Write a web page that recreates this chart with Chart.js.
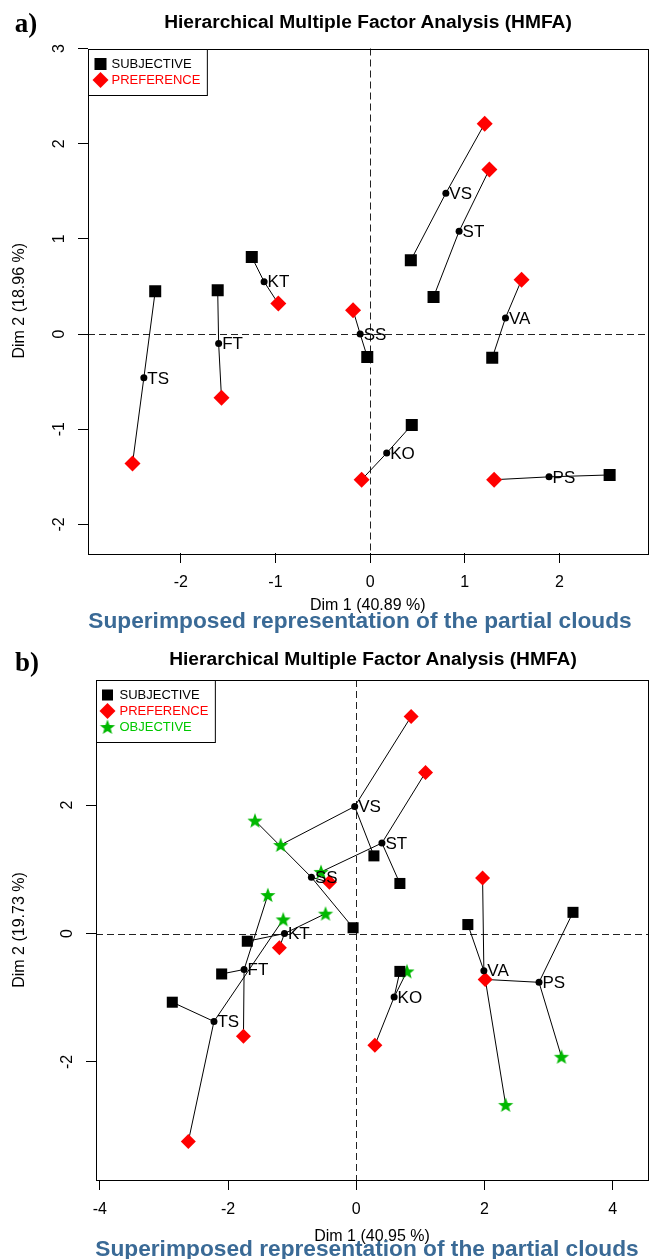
<!DOCTYPE html>
<html>
<head>
<meta charset="utf-8">
<title>HMFA partial clouds</title>
<script src="https://cdn.jsdelivr.net/npm/chart.js@4.4.1/dist/chart.umd.min.js"></script>
<style>
  html, body { margin: 0; padding: 0; background: #fff; }
  body { position: relative; width: 656px; height: 1259px; overflow: hidden; font-family: "Liberation Sans", Arial, sans-serif; }
  .panel { position: absolute; left: 0; width: 656px; }
  .txt { position: absolute; transform: translate(-50%, -50%); white-space: nowrap; line-height: 1; }
  .tag { font-family: "Liberation Serif", "Times New Roman", serif; font-weight: bold; font-size: 27px; }
  .main { font-weight: bold; font-size: 19.2px; color: #000; }
  .sub { font-weight: bold; font-size: 22.7px; color: #3a6a96; }
</style>
</head>
<body>
<div class="panel" style="top:0;height:640px"><canvas id="chart-a"></canvas></div>
<div class="panel" style="top:640px;height:619px"><canvas id="chart-b"></canvas></div>

<div class="txt tag" style="left:26px;top:23px">a)</div>
<div class="txt main" style="left:368px;top:22px">Hierarchical Multiple Factor Analysis (HMFA)</div>
<div class="txt sub" style="left:360px;top:620px">Superimposed representation of the partial clouds</div>

<div class="txt tag" style="left:27px;top:662px">b)</div>
<div class="txt main" style="left:373px;top:659px">Hierarchical Multiple Factor Analysis (HMFA)</div>
<div class="txt sub" style="left:367px;top:1248px">Superimposed representation of the partial clouds</div>

<script>
'use strict';

var products = ['TS', 'FT', 'KT', 'SS', 'VS', 'ST', 'VA', 'KO', 'PS'];

// panel a) : two groups
var subjAx = [-2.27, -1.61, -1.25, -0.03, 0.43, 0.67, 1.29, 0.44, 2.53];
var subjAy = [0.45, 0.46, 0.81, -0.24, 0.775, 0.39, -0.25, -0.955, -1.48];
var prefAx = [-2.51, -1.57, -0.97, -0.18, 1.21, 1.26, 1.60, -0.09, 1.31];
var prefAy = [-1.36, -0.67, 0.32, 0.25, 2.21, 1.73, 0.57, -1.53, -1.53];
var centAx = [-2.39, -1.60, -1.12, -0.105, 0.80, 0.94, 1.43, 0.175, 1.89];
var centAy = [-0.46, -0.10, 0.55, 0.0, 1.48, 1.08, 0.17, -1.25, -1.50];
var ticksAx = [-2, -1, 0, 1, 2];
var ticksAy = [-2, -1, 0, 1, 2, 3];

// panel b) : three groups
var subjBx = [-2.87, -2.10, -1.70, -0.05, 0.275, 0.68, 1.74, 0.68, 3.38];
var subjBy = [-1.07, -0.63, -0.12, 0.09, 1.21, 0.78, 0.14, -0.59, 0.33];
var prefBx = [-2.62, -1.76, -1.20, -0.42, 0.855, 1.08, 1.97, 0.29, 2.01];
var prefBy = [-3.24, -1.60, -0.22, 0.80, 3.38, 2.51, 0.865, -1.74, -0.715];
var objBx = [-1.14, -1.38, -0.48, -1.58, -1.18, -0.55, 2.33, 0.79, 3.20];
var objBy = [0.22, 0.60, 0.31, 1.76, 1.38, 0.96, -2.67, -0.59, -1.92];
var centBx = [-2.22, -1.75, -1.12, -0.70, -0.025, 0.40, 1.99, 0.59, 2.85];
var centBy = [-1.37, -0.56, 0.0, 0.876, 1.98, 1.41, -0.58, -0.99, -0.76];
var ticksBx = [-4, -2, 0, 2, 4];
var ticksBy = [-2, 0, 2];

var FONT = '"Liberation Sans", Arial, sans-serif';
var RED = '#ff0000';
var GREEN = '#00b800';

function starImage(r, color) {
  var c = document.createElement('canvas');
  var s = Math.ceil(r * 2 + 2);
  c.width = s;
  c.height = s;
  var g = c.getContext('2d');
  g.fillStyle = color;
  g.beginPath();
  for (var k = 0; k < 10; k++) {
    var rr = k % 2 ? r * 0.42 : r;
    var ang = -Math.PI / 2 + k * Math.PI / 5;
    var px = s / 2 + rr * Math.cos(ang);
    var py = s / 2 + 0.6 + rr * Math.sin(ang);
    if (k) g.lineTo(px, py); else g.moveTo(px, py);
  }
  g.closePath();
  g.fill();
  return c;
}

function pts(xs, ys) {
  return xs.map(function (v, i) { return { x: v, y: ys[i] }; });
}

function hmfaChart(id, o) {
  var datasets = [];

  // segments centre -> partial point
  o.groups.forEach(function (g) {
    products.forEach(function (p, i) {
      datasets.push({
        data: [{ x: o.cx[i], y: o.cy[i] }, { x: g.x[i], y: g.y[i] }],
        showLine: true,
        borderColor: '#000',
        borderWidth: 1,
        pointRadius: 0,
        pointHoverRadius: 0,
        order: 10
      });
    });
  });

  o.groups.forEach(function (g) {
    datasets.push({
      label: g.label,
      data: pts(g.x, g.y),
      pointStyle: g.style,
      pointRadius: g.r,
      backgroundColor: g.color,
      borderColor: g.color,
      borderWidth: 0,
      order: 5
    });
  });

  datasets.push({
    label: 'centre',
    data: pts(o.cx, o.cy),
    pointStyle: 'circle',
    pointRadius: 3.5,
    backgroundColor: '#000',
    borderWidth: 0,
    order: 1
  });

  var decor = {
    id: 'hmfaDecor',
    beforeDatasetsDraw: function (chart) {
      var ctx = chart.ctx, a = chart.chartArea;
      var x0 = chart.scales.x.getPixelForValue(0);
      var y0 = chart.scales.y.getPixelForValue(0);
      ctx.save();
      ctx.strokeStyle = '#222';
      ctx.lineWidth = 1;
      ctx.setLineDash([7, 4]);
      ctx.beginPath();
      ctx.moveTo(Math.round(x0) + 0.5, a.top);
      ctx.lineTo(Math.round(x0) + 0.5, a.bottom);
      ctx.moveTo(a.left, Math.round(y0) + 0.5);
      ctx.lineTo(a.right, Math.round(y0) + 0.5);
      ctx.stroke();
      ctx.restore();
    },
    afterDatasetsDraw: function (chart) {
      var ctx = chart.ctx, xs = chart.scales.x, ys = chart.scales.y;
      ctx.save();
      ctx.font = '17px ' + FONT;
      ctx.fillStyle = '#000';
      ctx.textAlign = 'left';
      ctx.textBaseline = 'middle';
      products.forEach(function (p, i) {
        ctx.fillText(p, xs.getPixelForValue(o.cx[i]) + 3.5, ys.getPixelForValue(o.cy[i]) + 1);
      });
      ctx.restore();
    },
    afterDraw: function (chart) {
      var ctx = chart.ctx, a = chart.chartArea, ys = chart.scales.y;
      ctx.save();
      // box
      ctx.strokeStyle = '#000';
      ctx.lineWidth = 1;
      ctx.strokeRect(Math.round(a.left) + 0.5, Math.round(a.top) + 0.5,
        Math.round(a.right - a.left), Math.round(a.bottom - a.top));

      // y tick labels, R style (parallel to axis)
      ctx.font = '16px ' + FONT;
      ctx.fillStyle = '#000';
      ctx.textAlign = 'center';
      ctx.textBaseline = 'middle';
      o.yTicks.forEach(function (v) {
        ctx.save();
        ctx.translate(a.left - 28, ys.getPixelForValue(v));
        ctx.rotate(-Math.PI / 2);
        ctx.fillText(String(v), 0, 0);
        ctx.restore();
      });

      // legend
      ctx.font = '13px ' + FONT;
      var w = 0;
      o.groups.forEach(function (g) { w = Math.max(w, ctx.measureText(g.label).width); });
      var bx = Math.round(a.left) + 0.5, by = Math.round(a.top) + 0.5;
      var bw = 23 + w + 7, bh = o.groups.length * 16 + 14;
      ctx.fillStyle = '#fff';
      ctx.fillRect(bx, by, bw, bh);
      ctx.strokeRect(bx, by, bw, bh);
      o.groups.forEach(function (g, k) {
        var yy = by + 14.5 + k * 16;
        ctx.fillStyle = g.color;
        Chart.helpers.drawPoint(ctx, { pointStyle: g.style, radius: g.lr, rotation: 0, borderWidth: 0 }, bx + o.markX, yy);
        ctx.fillStyle = g.text || g.color;
        ctx.textAlign = 'left';
        ctx.textBaseline = 'middle';
        ctx.fillText(g.label, bx + 23, yy);
      });
      ctx.restore();
    }
  };

  return new Chart(document.getElementById(id), {
    type: 'scatter',
    data: { datasets: datasets },
    plugins: [decor],
    options: {
      responsive: true,
      maintainAspectRatio: false,
      animation: false,
      events: [],
      layout: { padding: { top: o.padTop, right: o.padRight, left: 0, bottom: 0 } },
      plugins: {
        legend: { display: false },
        tooltip: { enabled: false },
        title: { display: false }
      },
      scales: {
        x: {
          type: 'linear',
          min: o.xmin,
          max: o.xmax,
          afterBuildTicks: function (s) { s.ticks = o.xTicks.map(function (v) { return { value: v }; }); },
          afterFit: function (s) { s.height = o.xAxisH; },
          grid: { drawOnChartArea: false, drawTicks: true, tickLength: 10, color: '#000', lineWidth: 1 },
          border: { display: false },
          ticks: {
            color: '#000',
            font: { family: FONT, size: 16 },
            padding: 10,
            autoSkip: false,
            maxRotation: 0,
            callback: function (v) { return String(v); }
          },
          title: {
            display: true,
            text: o.xTitle,
            color: '#000',
            font: { family: FONT, size: 16 },
            padding: { top: 0, bottom: o.xTitlePad }
          }
        },
        y: {
          type: 'linear',
          min: o.ymin,
          max: o.ymax,
          afterBuildTicks: function (s) { s.ticks = o.yTicks.map(function (v) { return { value: v }; }); },
          afterFit: function (s) { s.width = o.yAxisW; },
          grid: { drawOnChartArea: false, drawTicks: true, tickLength: 10, color: '#000', lineWidth: 1 },
          border: { display: false },
          ticks: { display: false },
          title: {
            display: true,
            text: o.yTitle,
            color: '#000',
            font: { family: FONT, size: 16 },
            padding: { top: o.yTitlePad, bottom: 0 }
          }
        }
      }
    }
  });
}

var star = starImage(8, GREEN);

hmfaChart('chart-a', {
  cx: centAx, cy: centAy,
  groups: [
    { label: 'SUBJECTIVE', x: subjAx, y: subjAy, style: 'rect', r: 8.5, lr: 8.5, color: '#000' },
    { label: 'PREFERENCE', x: prefAx, y: prefAy, style: 'rectRot', r: 8, lr: 8, color: RED }
  ],
  xmin: -2.98, xmax: 2.93, ymin: -2.30, ymax: 3.0,
  xTicks: ticksAx, yTicks: ticksAy,
  xTitle: 'Dim 1 (40.89 %)', yTitle: 'Dim 2 (18.96 %)',
  padTop: 48.5, padRight: 8, yAxisW: 88, xAxisH: 87,
  xTitlePad: 24.4, yTitlePad: 10.4, markX: 12
});

hmfaChart('chart-b', {
  cx: centBx, cy: centBy,
  groups: [
    { label: 'SUBJECTIVE', x: subjBx, y: subjBy, style: 'rect', r: 7.8, lr: 7.8, color: '#000' },
    { label: 'PREFERENCE', x: prefBx, y: prefBy, style: 'rectRot', r: 7.5, lr: 8, color: RED },
    { label: 'OBJECTIVE', x: objBx, y: objBy, style: star, r: 8, lr: 8, color: GREEN, text: '#00c800' }
  ],
  xmin: -4.06, xmax: 4.55, ymin: -3.84, ymax: 3.95,
  xTicks: ticksBx, yTicks: ticksBy,
  xTitle: 'Dim 1 (40.95 %)', yTitle: 'Dim 2 (19.73 %)',
  padTop: 40, padRight: 6, yAxisW: 96, xAxisH: 79,
  xTitlePad: 12.7, yTitlePad: 10.4, markX: 11
});
</script>
</body>
</html>
